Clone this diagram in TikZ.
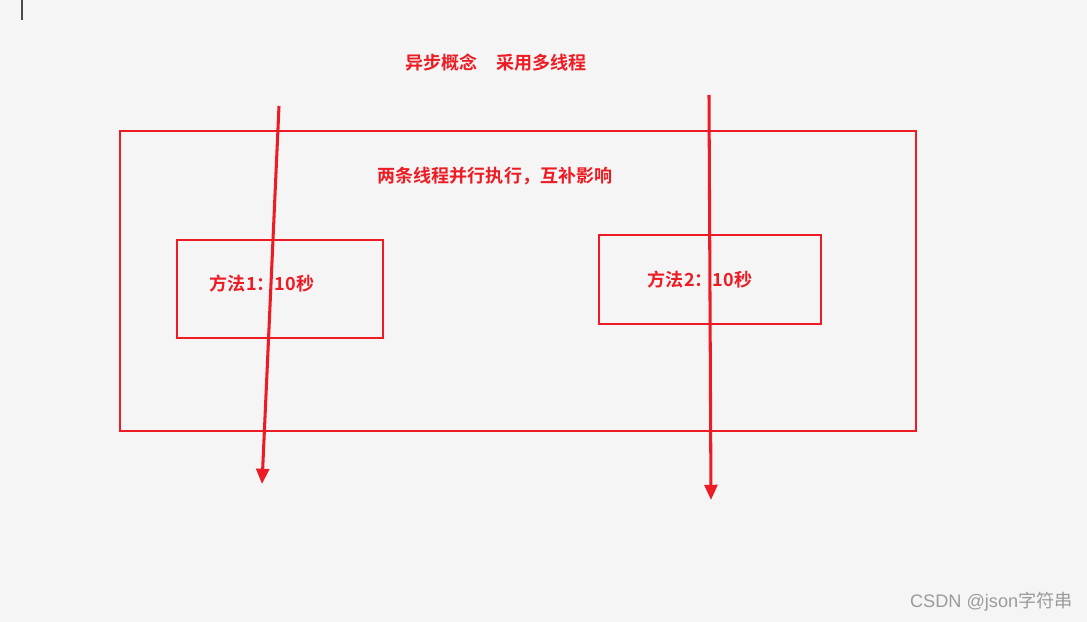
\documentclass[tikz,border=0pt]{standalone}
\usepackage{fontspec}
\newfontfamily\cjk{Noto Sans CJK SC}
\newfontfamily\cjkbold{Noto Sans CJK SC Bold}
\newfontfamily\latin{Liberation Sans}
\usetikzlibrary{positioning}
\usetikzlibrary{arrows.meta}
\definecolor{red}{RGB}{237,28,36}
\definecolor{paper}{RGB}{245,245,245}
\definecolor{mark}{RGB}{155,155,155}

\begin{document}
\begin{tikzpicture}[x=0.03cm, y=-0.03cm,
    redbox/.style={draw=red, line width=1.6pt, inner sep=0pt},
    redtext/.style={text=red, font=\cjkbold\fontsize{15.4}{17}\selectfont, inner sep=0pt},
    thread/.style={draw=red, line width=2.6pt, -{Triangle[length=13pt, width=11pt]}}]

%---------------------------------------
% Page
%---------------------------------------
\fill[paper] (0,0) rectangle (1087,622);
\useasboundingbox (0,0) rectangle (1087,622);
\draw[black!70, line width=1.6pt] (22,0) -- (22,20);

% Title
\node[redtext] (title) at (496,63) {异步概念\quad 采用多线程};

%====================================================
% Outer box: two threads
%====================================================
\node[redbox, minimum width=796*0.03cm, minimum height=300*0.03cm] (outer) at (518,281) {};
\node[redtext] (outertext) at (495,176) {两条线程并行执行，互补影响};

% Method boxes
\node[redbox, minimum width=206*0.03cm, minimum height=98*0.03cm] (m1) at (280,289) {};
\node[redtext] (m1text) at (262,284) {方法1：10秒};
\node[redbox, minimum width=222*0.03cm, minimum height=89*0.03cm] (m2) at (710,279.5) {};
\node[redtext] (m2text) at (700,280) {方法2：10秒};

%====================================================
% Threads
%====================================================
\coordinate (t1start) at (279,106);
\coordinate (t1end) at (262,484);
\coordinate (t2start) at (709,95);
\coordinate (t2end) at (711,500);
\draw[thread] (t1start) -- (t1end);
\draw[thread] (t2start) -- (t2end);

% Watermark
\node[text=mark, font=\cjk\fontsize{15.5}{17}\selectfont, anchor=east, inner sep=0pt] (csdn) at (1073,602) {{\latin CSDN @json}字符串};

\end{tikzpicture}
\end{document}
